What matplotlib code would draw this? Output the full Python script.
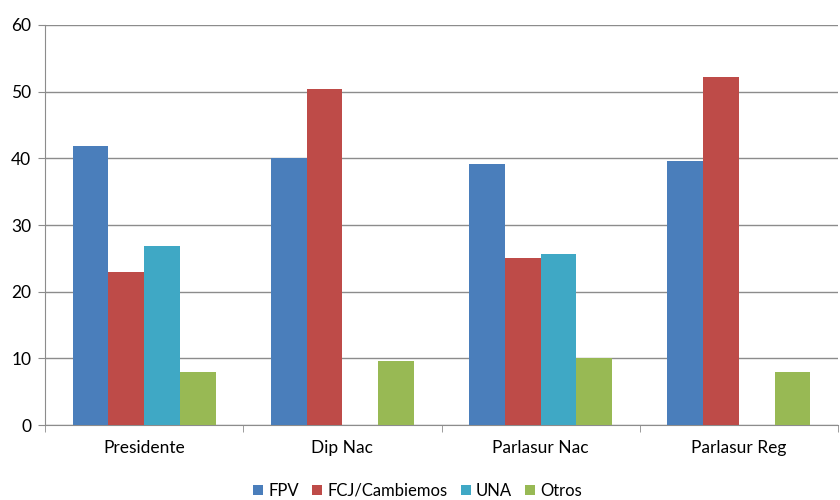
import numpy as np
import matplotlib.pyplot as plt

plt.rcParams['font.family'] = ['Lato', 'DejaVu Sans']

categories = ['Presidente', 'Dip Nac', 'Parlasur Nac', 'Parlasur Reg']
series_names = ['FPV', 'FCJ/Cambiemos', 'UNA', 'Otros']
fpv = [41.9, 40.0, 39.2, 39.6]
fcj = [23.0, 50.4, 25.0, 52.2]
una = [26.9, np.nan, 25.7, np.nan]
otros = [8.0, 9.6, 10.0, 8.0]
colors = ['#4a7ebb', '#be4b48', '#3fa8c5', '#98b954']

fig = plt.figure(figsize=(8.4, 5), dpi=100)
ax = fig.add_axes([0.0536, 0.15, 0.944, 0.80])

x = np.arange(len(categories))
w = 0.18
for i, (vals, name) in enumerate(zip([fpv, fcj, una, otros], series_names)):
    ax.bar(x + (i - 1.5) * w, vals, w, color=colors[i], label=name, zorder=3)

ax.set_ylim(0, 60)
ax.set_xlim(-0.5, 3.5)
ax.set_yticks(range(0, 61, 10))
ax.grid(axis='y', color='#8c8c8c', linewidth=1, zorder=0)
ax.set_xticks(x)
ax.set_xticklabels(categories, fontsize=12.5)
ax.set_xticks(np.arange(-0.5, 4, 1), minor=True)
ax.tick_params(axis='x', which='major', length=0, pad=11)
ax.tick_params(axis='x', which='minor', length=5, color='#8c8c8c')
ax.tick_params(axis='y', length=5, color='#8c8c8c', labelsize=12.5, pad=5)
for s in ['top', 'right']:
    ax.spines[s].set_visible(False)
for s in ['left', 'bottom']:
    ax.spines[s].set_color('#8c8c8c')

# leyenda abajo, centrada
ax.legend(loc='center', bbox_to_anchor=(0.47, -0.165), ncol=4, frameon=False,
          fontsize=12, handlelength=0.6, handleheight=0.6, handletextpad=0.3,
          columnspacing=0.8, borderpad=0.1)

fig.savefig('out.png', dpi=100)
